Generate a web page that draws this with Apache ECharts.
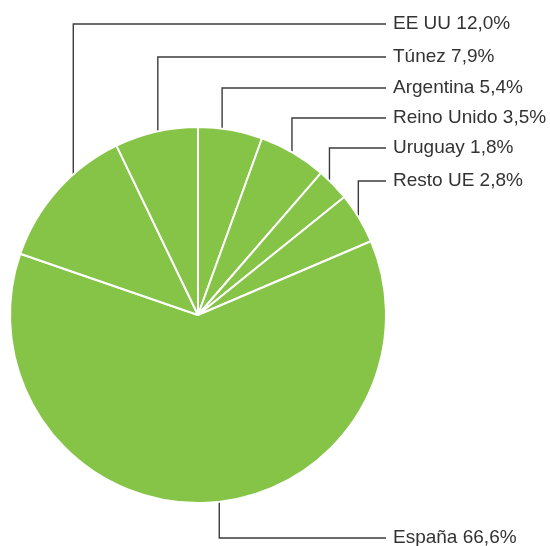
<!DOCTYPE html>
<html>
<head>
<meta charset="utf-8">
<script src="https://cdn.jsdelivr.net/npm/echarts@6/dist/echarts.min.js"></script>
<style>
  html, body { margin: 0; padding: 0; background: #fff; }
  #chart { width: 550px; height: 546px; }
</style>
</head>
<body>
<div id="chart"></div>
<script>
// Data (clockwise from 12 o'clock)
const categories = ['Argentina', 'Reino Unido', 'Uruguay', 'Resto UE', 'España', 'EE UU', 'Túnez'];
// Slice shares as drawn in the reference
const sliceShares = [5.53, 5.83, 2.83, 4.39, 61.69, 12.58, 7.14];
// Percent text printed in the labels
const labelPercents = ['5,4%', '3,5%', '1,8%', '2,8%', '66,6%', '12,0%', '7,9%'];

// Label layout (annotation placement)
const labelRowY = [88, 118, 148, 181, 538, 24, 57];
const anchorFrac = [0.37, 0.48, 0.34, 0.47, 0.48, 0.65, 0.52];
const labelTextX = 393;
const lineEndX = 386;

const chart = echarts.init(document.getElementById('chart'), null, { renderer: 'canvas' });

function labelLayout(params) {
  const i = params.dataIndex;
  let ax, ay;
  try {
    const lay = chart.getModel().getSeriesByIndex(0).getData().getItemLayout(i);
    const a = lay.startAngle + anchorFrac[i] * (lay.endAngle - lay.startAngle);
    ax = lay.cx + lay.r * Math.cos(a);
    ay = lay.cy + lay.r * Math.sin(a);
  } catch (e) {
    const p = params.labelLinePoints || [[0, 0]];
    ax = p[0][0]; ay = p[0][1];
  }
  const y = labelRowY[i];
  return {
    x: labelTextX,
    y: y,
    align: 'left',
    verticalAlign: 'middle',
    labelLinePoints: [[ax, ay], [ax, y], [lineEndX, y]]
  };
}

chart.setOption({
  animation: false,
  backgroundColor: '#ffffff',
  series: [{
    type: 'pie',
    center: [198, 315],
    radius: [0, 188],
    startAngle: 90,
    clockwise: true,
    avoidLabelOverlap: false,
    silent: true,
    itemStyle: { color: '#86c447', borderColor: '#ffffff', borderWidth: 2 },
    label: {
      show: true,
      position: 'outside',
      color: '#333333',
      fontSize: 19,
      fontFamily: 'Liberation Sans, Arial, Helvetica, sans-serif',
      formatter: function (p) { return categories[p.dataIndex] + ' ' + labelPercents[p.dataIndex]; }
    },
    labelLine: {
      show: true,
      length: 10,
      length2: 10,
      smooth: false,
      lineStyle: { color: '#3c3c3c', width: 1.4 }
    },
    labelLayout: labelLayout,
    emphasis: { disabled: true },
    data: categories.map(function (c, i) { return { name: c, value: sliceShares[i] }; })
  }]
});
</script>
</body>
</html>
